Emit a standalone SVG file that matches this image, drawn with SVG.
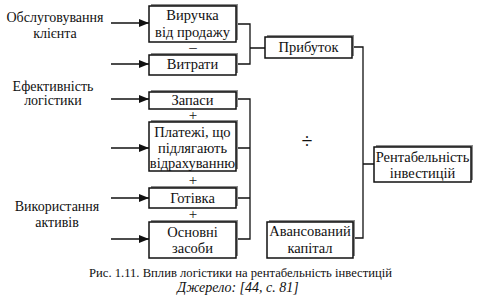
<svg xmlns="http://www.w3.org/2000/svg" width="479" height="304" viewBox="0 0 479 304">
<defs>
<marker id="ar" markerWidth="10" markerHeight="8" refX="10" refY="4" orient="auto" markerUnits="userSpaceOnUse">
<path d="M0,0 L10,4 L0,8 Z" fill="#111"/>
</marker>
</defs>
<rect width="479" height="304" fill="#fff"/>

<g id="labels" font-family="Times New Roman, Liberation Serif, serif" font-size="14" text-anchor="middle" fill="#111">
<text x="55" y="22">Обслуговування</text>
<text x="55" y="38">клієнта</text>
<text x="53" y="91">Ефективність</text>
<text x="53" y="105">логістики</text>
<text x="57" y="211">Використання</text>
<text x="57" y="227">активів</text>
</g>

<g id="connectors" fill="none" stroke="#111" stroke-width="1.3">
<line x1="111" y1="23" x2="149" y2="23" marker-end="url(#ar)"/>
<line x1="111" y1="64" x2="149" y2="64" marker-end="url(#ar)"/>
<line x1="111" y1="99" x2="149" y2="99" marker-end="url(#ar)"/>
<line x1="111" y1="148" x2="149" y2="148" marker-end="url(#ar)"/>
<line x1="111" y1="198" x2="149" y2="198" marker-end="url(#ar)"/>
<line x1="111" y1="239" x2="149" y2="239" marker-end="url(#ar)"/>
<path d="M236,24 H250 V64 H236 M250,48 H265"/>
<path d="M236,99 H250 V239 H236 M236,148 H250 M236,198 H250"/>
<path d="M352,47 H363 V238 H353 M363,164 H374"/>
</g>

<g id="nodes" font-family="Times New Roman, Liberation Serif, serif" font-size="14.5" text-anchor="middle" fill="#111">
<g id="n-vyruchka">
<rect fill="#8a8a8a" x="151" y="4" width="87" height="36"/>
<rect fill="#fff" stroke="#111" stroke-width="1.5" x="149" y="6" width="87" height="36"/>
<text x="192.5" y="20">Виручка</text>
<text x="192.5" y="37">від продажу</text>
</g>
<g id="n-vytraty">
<rect fill="#8a8a8a" x="151" y="53" width="87" height="20"/>
<rect fill="#fff" stroke="#111" stroke-width="1.5" x="149" y="55" width="87" height="20"/>
<text x="192.5" y="69">Витрати</text>
</g>
<g id="n-prybutok">
<rect fill="#8a8a8a" x="267" y="35" width="87" height="21"/>
<rect fill="#fff" stroke="#111" stroke-width="1.5" x="265" y="37" width="87" height="21"/>
<text x="308.5" y="52">Прибуток</text>
</g>
<g id="n-zapasy">
<rect fill="#8a8a8a" x="151" y="90" width="87" height="17"/>
<rect fill="#fff" stroke="#111" stroke-width="1.5" x="149" y="92" width="87" height="17"/>
<text x="192.5" y="105">Запаси</text>
</g>
<g id="n-platezhi">
<rect fill="#8a8a8a" x="151" y="120" width="87" height="49"/>
<rect fill="#fff" stroke="#111" stroke-width="1.5" x="149" y="122" width="87" height="49"/>
<text x="192.5" y="137">Платежі, що</text>
<text x="192.5" y="153">підлягають</text>
<text x="192.5" y="168">відрахуванню</text>
</g>
<g id="n-gotivka">
<rect fill="#8a8a8a" x="151" y="186" width="87" height="20"/>
<rect fill="#fff" stroke="#111" stroke-width="1.5" x="149" y="188" width="87" height="20"/>
<text x="192.5" y="203">Готівка</text>
</g>
<g id="n-osnovni">
<rect fill="#8a8a8a" x="151" y="220" width="87" height="36"/>
<rect fill="#fff" stroke="#111" stroke-width="1.5" x="149" y="222" width="87" height="36"/>
<text x="192.5" y="237">Основні</text>
<text x="192.5" y="253">засоби</text>
</g>
<g id="n-rentabelnist">
<rect fill="#8a8a8a" x="376" y="145" width="97" height="35"/>
<rect fill="#fff" stroke="#111" stroke-width="1.5" x="374" y="147" width="97" height="35"/>
<text x="422.5" y="162">Рентабельність</text>
<text x="422.5" y="178">інвестицій</text>
</g>
<g id="n-avansovanyi">
<rect fill="#8a8a8a" x="269" y="220" width="86" height="36"/>
<rect fill="#fff" stroke="#111" stroke-width="1.5" x="267" y="222" width="86" height="36"/>
<text x="310" y="236">Авансований</text>
<text x="310" y="253">капітал</text>
</g>
</g>

<g id="operators" font-family="Times New Roman, Liberation Serif, serif" font-size="15" text-anchor="middle" fill="#111">
<text x="193" y="52">–</text>
<text x="193" y="120">+</text>
<text x="193" y="185">+</text>
<text x="193" y="219">+</text>
<text x="307" y="148" font-size="20">÷</text>
</g>

<g id="caption" font-family="Times New Roman, Liberation Serif, serif" text-anchor="middle" fill="#111">
<text x="240.5" y="277" font-size="13" textLength="303" lengthAdjust="spacingAndGlyphs">Рис. 1.11. Вплив логістики на рентабельність інвестицій</text>
<text x="238" y="292" font-size="14" font-style="italic">Джерело: [44, с. 81]</text>
</g>
</svg>
